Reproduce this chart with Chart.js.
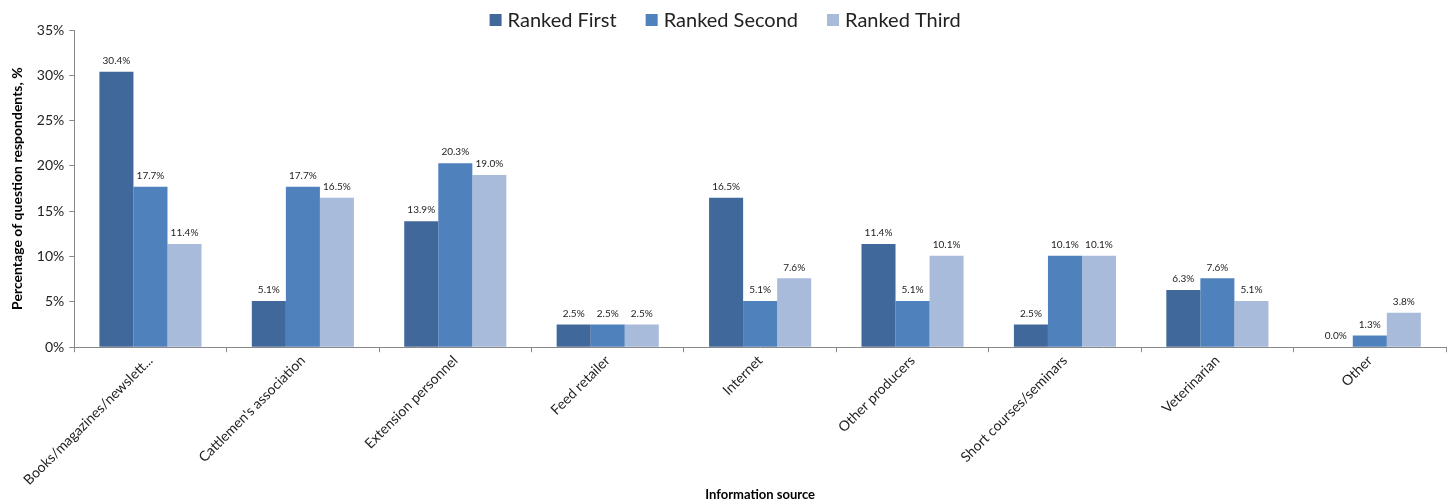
<!DOCTYPE html>
<html>
<head>
<meta charset="utf-8">
<script src="https://cdn.jsdelivr.net/npm/chart.js"></script>
<style>
  html, body { margin: 0; padding: 0; background: #fff; }
  #wrap { width: 1451px; height: 504px; position: relative; }
</style>
</head>
<body>
<div id="wrap"><canvas id="chart"></canvas></div>
<script>
const categories = ["Books/magazines/newslett...", "Cattlemen's association", "Extension personnel", "Feed retailer",
    "Internet", "Other producers", "Short courses/seminars", "Veterinarian", "Other"];
const rankedFirst = [30.4, 5.1, 13.9, 2.5, 16.5, 11.4, 2.5, 6.3, 0.0];
const rankedSecond = [17.7, 17.7, 20.3, 2.5, 5.1, 5.1, 10.1, 7.6, 1.3];
const rankedThird = [11.4, 16.5, 19.0, 2.5, 7.6, 10.1, 10.1, 5.1, 3.8];
const seriesNames = ["Ranked First", "Ranked Second", "Ranked Third"];
const seriesColors = ["#41689A", "#4F81BD", "#A9BBDA"];
const yTicks = [0, 5, 10, 15, 20, 25, 30, 35];

const FONT = "Lato, 'Open Sans', sans-serif";

// value labels above each bar
const barLabels = {
    id: "barLabels",
    afterDatasetsDraw(chart) {
        const ctx = chart.ctx;
        ctx.save();
        ctx.font = "10px " + FONT;
        ctx.fillStyle = "#222";
        ctx.textAlign = "center";
        ctx.textBaseline = "bottom";
        chart.data.datasets.forEach((ds, i) => {
            const meta = chart.getDatasetMeta(i);
            meta.data.forEach((bar, j) => {
                ctx.fillText(ds.data[j].toFixed(1) + "%", bar.x, bar.y - 6);
            });
        });
        ctx.restore();
    },
};

// legend row across the top, drawn by hand so it can sit close to the plot
const topLegend = {
    id: "topLegend",
    afterDraw(chart) {
        const ctx = chart.ctx;
        const box = 12, gapText = 6, gapItem = 29, y = 20;
        ctx.save();
        ctx.font = "20px " + FONT;
        ctx.textBaseline = "middle";
        const widths = chart.data.datasets.map((ds) => box + gapText + ctx.measureText(ds.label).width);
        const total = widths.reduce((a, b) => a + b, 0) + gapItem * (widths.length - 1);
        let x = (chart.chartArea.left + chart.chartArea.right) / 2 - total / 2 - 35;
        chart.data.datasets.forEach((ds, i) => {
            ctx.fillStyle = ds.backgroundColor;
            ctx.fillRect(x, y - box / 2, box, box);
            ctx.fillStyle = "#222";
            ctx.fillText(ds.label, x + box + gapText, y + 1);
            x += widths[i] + gapItem;
        });
        ctx.restore();
    },
};

const ctx = document.getElementById("chart").getContext("2d");
new Chart(ctx, {
    type: "bar",
    data: {
        labels: categories,
        datasets: [
            { label: seriesNames[0], data: rankedFirst, backgroundColor: seriesColors[0] },
            { label: seriesNames[1], data: rankedSecond, backgroundColor: seriesColors[1] },
            { label: seriesNames[2], data: rankedThird, backgroundColor: seriesColors[2] },
        ],
    },
    options: {
        responsive: true,
        maintainAspectRatio: false,
        animation: false,
        layout: { padding: { left: 9, right: 5, top: 30, bottom: 1 } },
        datasets: {
            bar: { categoryPercentage: 0.67, barPercentage: 1.0 },
        },
        scales: {
            x: {
                grid: { display: true, drawOnChartArea: false, drawTicks: true, tickLength: 5, color: "#888", offset: true },
                border: { color: "#888" },
                ticks: {
                    minRotation: 45,
                    maxRotation: 45,
                    autoSkip: false,
                    padding: 0,
                    color: "#222",
                    font: { family: FONT, size: 14 },
                },
                title: {
                    display: true,
                    text: "Information source",
                    color: "#000",
                    font: { family: FONT, size: 13, weight: "bold" },
                    padding: { top: -1, bottom: 0 },
                },
            },
            y: {
                min: 0,
                max: 35,
                afterBuildTicks: (axis) => { axis.ticks = yTicks.map((v) => ({ value: v })); },
                grid: { display: true, drawOnChartArea: false, drawTicks: true, tickLength: 5, color: "#888" },
                border: { color: "#888" },
                ticks: {
                    color: "#222",
                    font: { family: FONT, size: 14 },
                    padding: 5,
                    callback: (v) => v + "%",
                },
                title: {
                    display: true,
                    text: "Percentage of question respondents, %",
                    color: "#000",
                    font: { family: FONT, size: 14, weight: "bold" },
                    padding: { top: 0, bottom: 6 },
                },
            },
        },
        plugins: {
            legend: { display: false },
            tooltip: { enabled: false },
        },
    },
    plugins: [barLabels, topLegend],
});
</script>
</body>
</html>
